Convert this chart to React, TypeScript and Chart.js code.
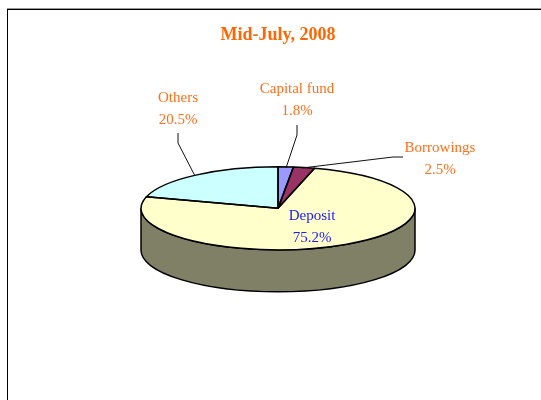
import React, { useEffect, useRef } from "react";
import { Chart, registerables } from "chart.js";

Chart.register(...registerables);

const categories = ["Capital fund", "Borrowings", "Deposit", "Others"];
const values = [1.8, 2.5, 75.2, 20.5];
const valueLabels = ["1.8%", "2.5%", "75.2%", "20.5%"];
const sliceColors = ["#9999FF", "#993366", "#FFFFCC", "#CCFFFF"];
const labelColors = ["#FF6F1A", "#FF6F1A", "#1A1AFF", "#FF6F1A"];
const titleText = "Mid-July, 2008";

const labelCenters = [
  [297, 89],
  [440, 148],
  [312, 216],
  [178, 98],
];
const leaders: (number[][] | null)[] = [
  [[297, 125], [297, 135], [286, 168]],
  [[403, 157], [393, 157], [302, 168]],
  null,
  [[178, 133], [178, 143], [195, 176]],
];

const RADIUS = 137;
const SQUASH = 41.5 / 137;
const DEPTH = 42;
const WALL = "#808066";

const pie3d = {
  id: "pie3d",
  beforeDraw(chart: any) {
    const { ctx } = chart;
    ctx.save();
    ctx.fillStyle = "#fff";
    ctx.fillRect(0, 0, chart.width, chart.height);
    ctx.fillStyle = "#999";
    ctx.fillRect(7, 8, chart.width - 7, 1);
    ctx.fillStyle = "#000";
    ctx.fillRect(7, 9, chart.width - 7, 1);
    ctx.fillRect(7, 9, 1, chart.height - 9);
    ctx.restore();
  },
  beforeDatasetsDraw(chart: any) {
    const { ctx } = chart;
    const { x, y } = chart.getDatasetMeta(0).data[0];
    ctx.save();
    ctx.fillStyle = WALL;
    ctx.strokeStyle = "#000";
    ctx.lineWidth = 1.5;
    ctx.beginPath();
    ctx.ellipse(x, y, RADIUS, RADIUS * SQUASH, 0, 0, Math.PI);
    ctx.lineTo(x - RADIUS, y + DEPTH);
    ctx.ellipse(x, y + DEPTH, RADIUS, RADIUS * SQUASH, 0, Math.PI, 0, true);
    ctx.closePath();
    ctx.fill();
    ctx.stroke();
    ctx.restore();
    ctx.save();
    ctx.translate(0, y);
    ctx.scale(1, SQUASH);
    ctx.translate(0, -y);
  },
  afterDatasetsDraw(chart: any) {
    const { ctx } = chart;
    ctx.restore();
    const arcs = chart.getDatasetMeta(0).data;
    const { x, y } = arcs[0];
    ctx.save();
    ctx.strokeStyle = "#000";
    ctx.lineWidth = 1.5;
    ctx.lineJoin = "round";
    arcs.forEach((arc: any) => {
      ctx.beginPath();
      ctx.moveTo(x, y);
      ctx.ellipse(x, y, RADIUS, RADIUS * SQUASH, 0, arc.startAngle, arc.endAngle);
      ctx.closePath();
      ctx.stroke();
    });
    ctx.lineWidth = 1;
    ctx.strokeStyle = "#111";
    leaders.forEach((pts) => {
      if (!pts) return;
      ctx.beginPath();
      pts.forEach(([px, py], i) => (i ? ctx.lineTo(px, py) : ctx.moveTo(px, py)));
      ctx.stroke();
    });
    ctx.font = '15px "Liberation Serif"';
    ctx.textAlign = "center";
    ctx.textBaseline = "middle";
    categories.forEach((name, i) => {
      const [cx, cy] = labelCenters[i];
      ctx.fillStyle = labelColors[i];
      ctx.fillText(name, cx, cy);
      ctx.fillText(valueLabels[i], cx, cy + 22.5);
    });
    ctx.restore();
  },
};

export default function App() {
  const ref = useRef<HTMLCanvasElement>(null);
  useEffect(() => {
    const chart = new Chart(ref.current!, {
      type: "pie",
      data: {
        labels: categories,
        datasets: [
          {
            data: values,
            backgroundColor: sliceColors,
            borderWidth: 0,
            radius: RADIUS,
          } as any,
        ],
      },
      options: {
        responsive: false,
        animation: false,
        events: [],
        layout: { padding: { left: 15, right: 0, top: 0, bottom: 30 } },
        plugins: {
          legend: { display: false },
          tooltip: { enabled: false },
          title: {
            display: true,
            text: titleText,
            color: "#FF6600",
            font: { family: '"Liberation Serif"', size: 18, weight: "bold" },
            padding: { top: 25, bottom: 0 },
          },
        },
      },
      plugins: [pie3d],
    });
    return () => chart.destroy();
  }, []);
  return (
    <div style={{ position: "fixed", left: 0, top: 0, width: 541, height: 400 }}>
      <canvas ref={ref} width={541} height={400} style={{ display: "block" }} />
    </div>
  );
}
